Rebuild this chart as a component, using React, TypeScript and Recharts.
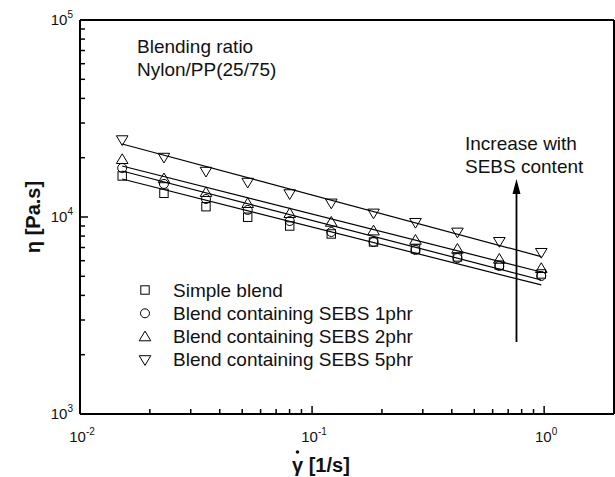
import {
  ComposedChart,
  Scatter,
  Line,
  XAxis,
  YAxis,
  ReferenceLine,
  Customized,
} from "recharts";

// shear rate [1/s]
const rates = [0.0152, 0.023, 0.0349, 0.0528, 0.0801, 0.121, 0.184, 0.279, 0.423, 0.641, 0.972];

// viscosity [Pa.s]
const simpleBlend = [16150, 13190, 11280, 9970, 9000, 8200, 7470, 6880, 6270, 5700, 5140];
const sebs1 = [17740, 14720, 12340, 10860, 9540, 8390, 7470, 6800, 6190, 5640, 5020];
const sebs2 = [19630, 15680, 13350, 11740, 10440, 9430, 8520, 7640, 6880, 6120, 5490];
const sebs5 = [24600, 20050, 17020, 14970, 13090, 11740, 10440, 9360, 8360, 7490, 6590];

// power-law fit end points
const fitRates = [0.0152, 0.972];
const simpleFit = [15590, 4520];
const sebs1Fit = [17120, 4790];
const sebs2Fit = [18150, 5260];
const sebs5Fit = [23480, 6290];

const yTicks = [1000, 2000, 3000, 4000, 5000, 6000, 7000, 8000, 9000, 10000, 20000, 30000, 40000, 50000, 60000, 70000, 80000, 90000, 100000];
const xTicks = [0.01, 0.02, 0.03, 0.04, 0.05, 0.06, 0.07, 0.08, 0.09, 0.1, 0.2, 0.3, 0.4, 0.5, 0.6, 0.7, 0.8, 0.9, 1];

const legendNames = ["Simple blend", "Blend containing SEBS 1phr", "Blend containing SEBS 2phr", "Blend containing SEBS 5phr"];

const FONT = "'Liberation Sans', Arial, sans-serif";
const LEFT = 80;
const BOTTOM = 414;

const toPoints = (ys: number[]) => ys.map((y, i) => ({ x: rates[i], y }));
const toFit = (ys: number[]) => ys.map((y, i) => ({ x: fitRates[i], y }));

function isMajor(v: number) {
  const e = Math.log10(v);
  return Math.abs(e - Math.round(e)) < 1e-6;
}

const YTick = (props: any) => {
  const { y, payload } = props;
  const major = isMajor(payload.value);
  const exp = Math.round(Math.log10(payload.value));
  return (
    <g>
      <line x1={LEFT} x2={LEFT + (major ? 8 : 5)} y1={y} y2={y} stroke="#000" strokeWidth={1.5} />
      {major && (
        <text x={73} y={y + 5} textAnchor="end" fontSize={15} fill="#111" fontFamily={FONT}>
          10
          <tspan dy={-7} fontSize={10}>{exp}</tspan>
        </text>
      )}
    </g>
  );
};

const XTick = (props: any) => {
  const { x, payload } = props;
  const major = isMajor(payload.value);
  const exp = Math.round(Math.log10(payload.value));
  return (
    <g>
      <line x1={x} x2={x} y1={BOTTOM} y2={BOTTOM - (major ? 8 : 5)} stroke="#000" strokeWidth={1.5} />
      {major && (
        <text x={x + 2} y={442} textAnchor="middle" fontSize={15} fill="#111" fontFamily={FONT}>
          10
          <tspan dy={-7} fontSize={10}>{exp}</tspan>
        </text>
      )}
    </g>
  );
};

const Square = (p: any) => <rect x={p.cx - 4.2} y={p.cy - 4.2} width={8.4} height={8.4} fill="none" stroke="#000" strokeWidth={1} />;
const Circle = (p: any) => <circle cx={p.cx} cy={p.cy} r={4.5} fill="none" stroke="#000" strokeWidth={1} />;
const TriUp = (p: any) => (
  <polygon points={`${p.cx},${p.cy - 5.5} ${p.cx - 5.8},${p.cy + 4.2} ${p.cx + 5.8},${p.cy + 4.2}`} fill="none" stroke="#000" strokeWidth={1} />
);
const TriDown = (p: any) => (
  <polygon points={`${p.cx},${p.cy + 5.5} ${p.cx - 5.8},${p.cy - 4.2} ${p.cx + 5.8},${p.cy - 4.2}`} fill="none" stroke="#000" strokeWidth={1} />
);
const legendShapes = [Square, Circle, TriUp, TriDown];

const Arrow = (p: any) => {
  const { x1, y1, x2, y2 } = p;
  return (
    <g>
      <line x1={x1} y1={y1} x2={x2} y2={y2 + 10} stroke="#000" strokeWidth={1.8} />
      <polygon points={`${x2},${y2} ${x2 - 4},${y2 + 15} ${x2 + 4},${y2 + 15}`} fill="#000" />
    </g>
  );
};

const Annotations = () => (
  <g fontFamily={FONT} fill="#111" fontSize={19}>
    <text x={137} y={53}>Blending ratio</text>
    <text x={137} y={76}>Nylon/PP(25/75)</text>
    <text x={465} y={150}>Increase with</text>
    <text x={465} y={173}>SEBS content</text>
    {legendNames.map((name, i) => {
      const cy = 290 + i * 23.3;
      const Shape = legendShapes[i];
      return (
        <g key={name}>
          <Shape cx={145} cy={cy} />
          <text x={173} y={cy + 6.5}>{name}</text>
        </g>
      );
    })}
    <text
      x={40}
      y={217}
      transform="rotate(-90 40 217)"
      textAnchor="middle"
      fontSize={20}
      fontWeight="bold"
    >
      η [Pa.s]
    </text>
    <text x={292} y={472} fontSize={20} fontWeight="bold">
      γ [1/s]
    </text>
    {/* dot accent over the gamma */}
    <circle cx={297.5} cy={452} r={1.8} fill="#111" />
  </g>
);

export default function App() {
  return (
    <div style={{ position: "absolute", left: 0, top: 0, width: 615, height: 477, background: "#fff" }}>
      <ComposedChart width={615} height={477} margin={{ top: 20, right: 1, bottom: 33, left: 20 }}>
        <XAxis
          dataKey="x"
          type="number"
          scale="log"
          domain={[0.01, 2]}
          allowDataOverflow
          ticks={xTicks}
          interval={0}
          tickLine={false}
          tick={<XTick />}
          height={30}
          axisLine={{ stroke: "#000", strokeWidth: 2 }}
        />
        <YAxis
          dataKey="y"
          type="number"
          scale="log"
          domain={[1000, 100000]}
          allowDataOverflow
          ticks={yTicks}
          interval={0}
          tickLine={false}
          tick={<YTick />}
          width={60}
          axisLine={{ stroke: "#000", strokeWidth: 2 }}
        />
        <ReferenceLine y={100000} stroke="#000" strokeWidth={2} />
        <ReferenceLine x={2} stroke="#000" strokeWidth={2} />

        <Line data={toFit(simpleFit)} dataKey="y" stroke="#000" strokeWidth={1.2} dot={false} isAnimationActive={false} />
        <Line data={toFit(sebs1Fit)} dataKey="y" stroke="#000" strokeWidth={1.2} dot={false} isAnimationActive={false} />
        <Line data={toFit(sebs2Fit)} dataKey="y" stroke="#000" strokeWidth={1.2} dot={false} isAnimationActive={false} />
        <Line data={toFit(sebs5Fit)} dataKey="y" stroke="#000" strokeWidth={1.2} dot={false} isAnimationActive={false} />

        <Scatter data={toPoints(simpleBlend)} shape={<Square />} isAnimationActive={false} />
        <Scatter data={toPoints(sebs1)} shape={<Circle />} isAnimationActive={false} />
        <Scatter data={toPoints(sebs2)} shape={<TriUp />} isAnimationActive={false} />
        <Scatter data={toPoints(sebs5)} shape={<TriDown />} isAnimationActive={false} />

        <ReferenceLine
          segment={[
            { x: 0.76, y: 2320 },
            { x: 0.76, y: 15600 },
          ]}
          shape={<Arrow />}
        />
        <Customized component={<Annotations />} />
      </ComposedChart>
    </div>
  );
}
